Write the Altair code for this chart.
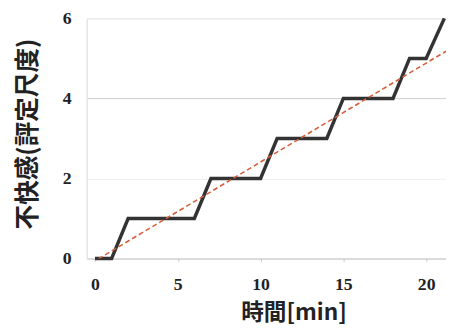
import altair as alt
import pandas as pd

# stepped discomfort curve
step_x = [0, 1, 2, 6, 7, 10, 11, 14, 15, 18, 19, 20, 21.1]
step_y = [0, 0, 1, 1, 2, 2, 3, 3, 4, 4, 5, 5, 6]

# dashed trend line end points
trend_x = [0.2, 21.2]
trend_y = [-0.01, 5.18]

x_ticks = [0, 5, 10, 15, 20]
y_ticks = [0, 2, 4, 6]

steps = pd.DataFrame({"t": step_x, "v": step_y, "o": list(range(len(step_x)))})
trend = pd.DataFrame({"t": trend_x, "v": trend_y})

xscale = alt.Scale(domain=[-0.5, 21.2], nice=False, zero=False)
yscale = alt.Scale(domain=[0, 6], nice=False)

xaxis = alt.Axis(
    values=x_ticks, title="時間[min]", grid=False,
    labelFont="Liberation Serif", labelFontWeight="bold", labelFontSize=18, labelColor="#222",
    labelPadding=14, tickSize=3, tickColor="#c8c8c8", domainColor="#c8c8c8",
    titleFont="Noto Sans CJK JP", titleFontWeight="bold", titleFontSize=23, titleColor="#222",
    titleX=210, titleY=55, titleAlign="center", titleBaseline="middle",
)
yaxis = alt.Axis(
    values=y_ticks, title="不快感(評定尺度)", grid=True,
    gridColor=alt.condition("datum.value == 4", alt.value("#cfcfcf"), alt.value("#eeeeee")),
    labelFont="Liberation Serif", labelFontWeight="bold", labelFontSize=18, labelColor="#222",
    labelPadding=16, ticks=False, domainColor="#e6e6e6",
    titleFont="Noto Sans CJK JP", titleFontWeight="bold", titleFontSize=25, titleColor="#222",
    titleAngle=270, titleX=-60, titleY=117, titleAlign="center", titleBaseline="middle",
)

base_step = alt.Chart(steps).mark_line(color="#333333", strokeWidth=3.5, strokeJoin="miter").encode(
    x=alt.X("t:Q", scale=xscale, axis=xaxis),
    y=alt.Y("v:Q", scale=yscale, axis=yaxis),
    order="o:Q",
)

trend_line = alt.Chart(trend).mark_line(color="#d4603c", strokeWidth=1.6, strokeDash=[5, 3], clip=True).encode(
    x=alt.X("t:Q", scale=xscale),
    y=alt.Y("v:Q", scale=yscale),
)

chart = alt.layer(base_step, trend_line).properties(
    width=365, height=244,
    autosize=alt.AutoSizeParams(type="none"),
    padding={"left": 80, "top": 8, "right": 0, "bottom": 68},
).configure_view(stroke=None).configure(background="white")

chart.save("out.html", embed_options={"renderer": "svg", "actions": False})
